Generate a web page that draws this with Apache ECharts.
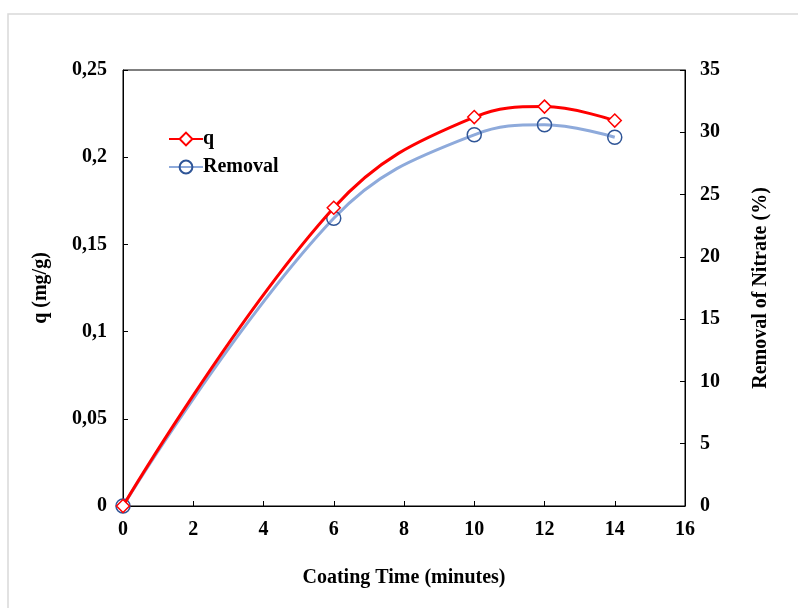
<!DOCTYPE html>
<html>
<head>
<meta charset="utf-8">
<script src="https://cdn.jsdelivr.net/npm/echarts@6/dist/echarts.min.js"></script>
<style>html,body{margin:0;padding:0;background:#fff}#c{width:798px;height:608px}</style>
</head>
<body>
<div id="c"></div>
<script>
var times = [0, 6, 10, 12, 14];
var qValues = [0, 0.171, 0.223, 0.229, 0.221];
var removalValues = [0, 23.1, 29.8, 30.6, 29.6];
var xTicks = [0, 2, 4, 6, 8, 10, 12, 14, 16];
var leftTicks = [0, 0.05, 0.1, 0.15, 0.2, 0.25];
var rightTicks = [0, 5, 10, 15, 20, 25, 30, 35];

var font = 'Liberation Serif';
var fs = 20;
function comma(v){ return String(v).replace('.', ','); }
var chart = echarts.init(document.getElementById('c'));
chart.setOption({
  animation: false,
  backgroundColor: '#fff',
  textStyle: {fontFamily: font},
  graphic: [{type:'rect', shape:{x:8, y:14, width:800, height:600}, style:{fill:'none', stroke:'#d9d9d9', lineWidth:1.5}, z:-1}],
  grid: {left:123, right:113, top:70, bottom:102, show:true, borderColor:'#000', borderWidth:1},
  legend: {
    orient:'vertical', left:163, top:124, itemGap:8, itemWidth:34, itemHeight:16,
    textStyle:{fontFamily:font, fontWeight:'bold', fontSize:fs, color:'#000', padding:[0,0,0,-5]},
    data:[{name:'q'},{name:'Removal'}]
  },
  xAxis: {
    type:'value', min:0, max:16, interval:2,
    name:'Coating Time (minutes)', nameLocation:'middle', nameGap:62,
    nameTextStyle:{fontFamily:font, fontWeight:'bold', fontSize:fs, color:'#000'},
    axisLine:{lineStyle:{color:'#000', width:1}},
    axisTick:{inside:true, length:5, lineStyle:{color:'#000'}},
    axisLabel:{fontFamily:font, fontWeight:'bold', fontSize:fs, color:'#000', margin:14,
      formatter:function(v){return xTicks.indexOf(v)>=0?String(v):'';}},
    splitLine:{show:false}
  },
  yAxis: [{
    type:'value', min:0, max:0.25, interval:0.05, position:'left',
    name:'q (mg/g)', nameLocation:'middle', nameGap:72,
    nameTextStyle:{fontFamily:font, fontWeight:'bold', fontSize:fs, color:'#000'},
    axisLine:{show:true, lineStyle:{color:'#000', width:1}},
    axisTick:{show:true, inside:true, length:5, lineStyle:{color:'#000'}},
    axisLabel:{fontFamily:font, fontWeight:'bold', fontSize:fs, color:'#000', margin:16,
      formatter:function(v){var r=Math.round(v*100)/100; return leftTicks.indexOf(r)>=0?comma(r):'';}},
    splitLine:{show:false}
  },{
    type:'value', min:0, max:35, interval:5, position:'right',
    name:'Removal of Nitrate (%)', nameLocation:'middle', nameGap:66,
    nameTextStyle:{fontFamily:font, fontWeight:'bold', fontSize:fs, color:'#000'},
    axisLine:{show:true, lineStyle:{color:'#000', width:1}},
    axisTick:{show:true, inside:true, length:5, lineStyle:{color:'#000'}},
    axisLabel:{fontFamily:font, fontWeight:'bold', fontSize:fs, color:'#000', margin:15,
      formatter:function(v){return rightTicks.indexOf(v)>=0?String(v):'';}},
    splitLine:{show:false}
  }],
  series: [{
    name:'q', type:'line', yAxisIndex:0, smooth:0.4,
    data: times.map(function(t,i){return [t, qValues[i]];}),
    symbol:'diamond', symbolSize:13, showAllSymbol:true,
    lineStyle:{color:'#ff0000', width:3},
    itemStyle:{color:'#fff', borderColor:'#ff0000', borderWidth:1.5},
    z:3
  },{
    name:'Removal', type:'line', yAxisIndex:1, smooth:0.4,
    data: times.map(function(t,i){return [t, removalValues[i]];}),
    symbol:'circle', symbolSize:14, showAllSymbol:true,
    lineStyle:{color:'#8eaadb', width:3},
    itemStyle:{color:'rgba(255,255,255,0)', borderColor:'#2f5597', borderWidth:1.5},
    z:2
  }]
});
</script>
</body>
</html>
